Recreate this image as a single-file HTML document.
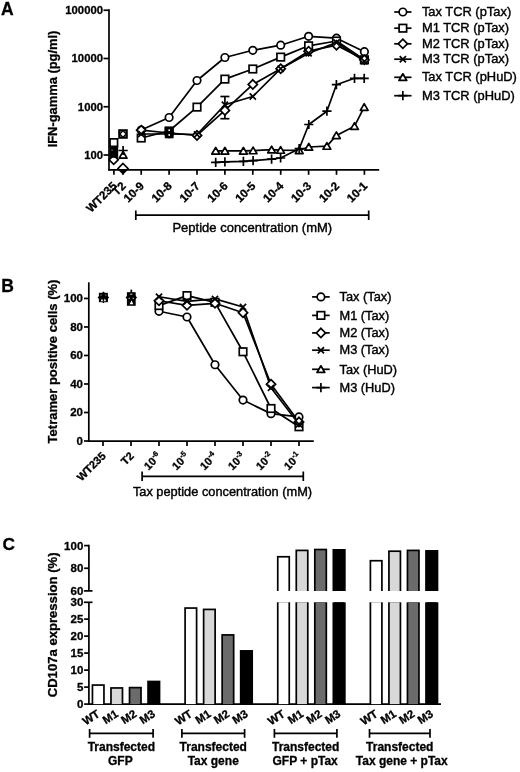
<!DOCTYPE html>
<html><head><meta charset="utf-8"><style>
html,body{margin:0;padding:0;background:#fff;overflow:hidden;}
svg{display:block;filter:blur(0.35px);}
text{font-family:"Liberation Sans", sans-serif;fill:#000;}
text[font-weight="bold"]{stroke:#000;stroke-width:0.3px;}
text[font-weight="normal"]{stroke:#000;stroke-width:0.4px;}
</style></head><body>
<svg width="520" height="772" viewBox="0 0 520 772">
<rect width="520" height="772" fill="#fff"/>
<text x="1.00" y="15.10" font-size="17.5" font-weight="bold" text-anchor="start">A</text>
<line x1="109.00" y1="9.25" x2="109.00" y2="170.55" stroke="#000" stroke-width="1.7"/>
<line x1="108.25" y1="169.80" x2="379.20" y2="169.80" stroke="#000" stroke-width="1.7"/>
<line x1="103.50" y1="10.25" x2="109.00" y2="10.25" stroke="#000" stroke-width="1.7"/>
<text x="103.00" y="14.15" font-size="11.3" font-weight="bold" text-anchor="end">100000</text>
<line x1="103.50" y1="58.50" x2="109.00" y2="58.50" stroke="#000" stroke-width="1.7"/>
<text x="103.00" y="62.40" font-size="11.3" font-weight="bold" text-anchor="end">10000</text>
<line x1="103.50" y1="106.75" x2="109.00" y2="106.75" stroke="#000" stroke-width="1.7"/>
<text x="103.00" y="110.65" font-size="11.3" font-weight="bold" text-anchor="end">1000</text>
<line x1="103.50" y1="155.00" x2="109.00" y2="155.00" stroke="#000" stroke-width="1.7"/>
<text x="103.00" y="158.90" font-size="11.3" font-weight="bold" text-anchor="end">100</text>
<line x1="113.90" y1="169.80" x2="113.90" y2="174.80" stroke="#000" stroke-width="1.7"/>
<line x1="123.00" y1="169.80" x2="123.00" y2="174.80" stroke="#000" stroke-width="1.7"/>
<line x1="141.20" y1="169.80" x2="141.20" y2="174.80" stroke="#000" stroke-width="1.7"/>
<line x1="169.10" y1="169.80" x2="169.10" y2="174.80" stroke="#000" stroke-width="1.7"/>
<line x1="197.00" y1="169.80" x2="197.00" y2="174.80" stroke="#000" stroke-width="1.7"/>
<line x1="224.90" y1="169.80" x2="224.90" y2="174.80" stroke="#000" stroke-width="1.7"/>
<line x1="252.80" y1="169.80" x2="252.80" y2="174.80" stroke="#000" stroke-width="1.7"/>
<line x1="280.70" y1="169.80" x2="280.70" y2="174.80" stroke="#000" stroke-width="1.7"/>
<line x1="308.60" y1="169.80" x2="308.60" y2="174.80" stroke="#000" stroke-width="1.7"/>
<line x1="336.50" y1="169.80" x2="336.50" y2="174.80" stroke="#000" stroke-width="1.7"/>
<line x1="364.40" y1="169.80" x2="364.40" y2="174.80" stroke="#000" stroke-width="1.7"/>
<text x="117.50" y="186.70" font-size="11.6" font-weight="bold" text-anchor="end" transform="rotate(-45 117.50 186.70)">WT235</text>
<text x="126.60" y="186.70" font-size="11.6" font-weight="bold" text-anchor="end" transform="rotate(-45 126.60 186.70)">T2</text>
<text x="144.80" y="186.70" font-size="11.6" font-weight="bold" text-anchor="end" transform="rotate(-45 144.80 186.70)">10-9</text>
<text x="172.70" y="186.70" font-size="11.6" font-weight="bold" text-anchor="end" transform="rotate(-45 172.70 186.70)">10-8</text>
<text x="200.60" y="186.70" font-size="11.6" font-weight="bold" text-anchor="end" transform="rotate(-45 200.60 186.70)">10-7</text>
<text x="228.50" y="186.70" font-size="11.6" font-weight="bold" text-anchor="end" transform="rotate(-45 228.50 186.70)">10-6</text>
<text x="256.40" y="186.70" font-size="11.6" font-weight="bold" text-anchor="end" transform="rotate(-45 256.40 186.70)">10-5</text>
<text x="284.30" y="186.70" font-size="11.6" font-weight="bold" text-anchor="end" transform="rotate(-45 284.30 186.70)">10-4</text>
<text x="312.20" y="186.70" font-size="11.6" font-weight="bold" text-anchor="end" transform="rotate(-45 312.20 186.70)">10-3</text>
<text x="340.10" y="186.70" font-size="11.6" font-weight="bold" text-anchor="end" transform="rotate(-45 340.10 186.70)">10-2</text>
<text x="368.00" y="186.70" font-size="11.6" font-weight="bold" text-anchor="end" transform="rotate(-45 368.00 186.70)">10-1</text>
<text x="56.60" y="89.00" font-size="12.9" font-weight="bold" text-anchor="middle" transform="rotate(-90 56.60 89.00)">IFN-gamma (pg/ml)</text>
<line x1="135.80" y1="215.20" x2="368.70" y2="215.20" stroke="#000" stroke-width="1.7"/>
<line x1="135.80" y1="210.50" x2="135.80" y2="220.00" stroke="#000" stroke-width="1.7"/>
<line x1="368.70" y1="210.50" x2="368.70" y2="220.00" stroke="#000" stroke-width="1.7"/>
<text x="252.30" y="231.50" font-size="13" font-weight="normal" text-anchor="middle">Peptide concentration (mM)</text>
<polyline points="141.20,130.00 169.10,117.50 197.00,80.50 224.90,57.50 252.80,50.30 280.70,45.20 308.60,36.30 336.50,38.20 364.40,51.70" fill="none" stroke="#000" stroke-width="1.7" stroke-linejoin="round"/>
<polyline points="141.20,138.00 169.10,131.00 197.00,107.10 224.90,79.10 252.80,69.00 280.70,57.10 308.60,45.80 336.50,41.00 364.40,59.80" fill="none" stroke="#000" stroke-width="1.7" stroke-linejoin="round"/>
<polyline points="141.20,130.20 169.10,133.00 197.00,135.40 224.90,110.40 252.80,84.40 280.70,68.70 308.60,51.20 336.50,45.20 364.40,59.80" fill="none" stroke="#000" stroke-width="1.7" stroke-linejoin="round"/>
<polyline points="141.20,134.00 169.10,134.00 197.00,134.50 224.90,104.80 252.80,96.50 280.70,68.70 308.60,53.30 336.50,42.50 364.40,61.40" fill="none" stroke="#000" stroke-width="1.7" stroke-linejoin="round"/>
<polyline points="215.70,150.90 224.90,150.90 243.40,150.90 253.10,150.60 271.60,149.70 280.60,150.10 299.20,150.40 308.80,147.00 326.90,146.10 336.40,135.40 354.50,126.20 364.20,107.20" fill="none" stroke="#000" stroke-width="1.7" stroke-linejoin="round"/>
<polyline points="215.70,162.30 224.90,161.80 243.40,161.30 253.10,160.60 271.60,159.20 280.60,158.00 299.20,148.70 308.80,124.50 326.90,111.20 336.40,84.70 354.50,78.30 364.20,78.30" fill="none" stroke="#000" stroke-width="1.7" stroke-linejoin="round"/>
<line x1="224.90" y1="96.50" x2="224.90" y2="118.70" stroke="#000" stroke-width="1.7"/>
<line x1="220.40" y1="96.50" x2="229.40" y2="96.50" stroke="#000" stroke-width="1.7"/>
<line x1="220.40" y1="118.70" x2="229.40" y2="118.70" stroke="#000" stroke-width="1.7"/>
<circle cx="141.20" cy="130.00" r="3.75" fill="#fff" stroke="#000" stroke-width="1.7"/>
<circle cx="169.10" cy="117.50" r="3.75" fill="#fff" stroke="#000" stroke-width="1.7"/>
<circle cx="197.00" cy="80.50" r="3.75" fill="#fff" stroke="#000" stroke-width="1.7"/>
<circle cx="224.90" cy="57.50" r="3.75" fill="#fff" stroke="#000" stroke-width="1.7"/>
<circle cx="252.80" cy="50.30" r="3.75" fill="#fff" stroke="#000" stroke-width="1.7"/>
<circle cx="280.70" cy="45.20" r="3.75" fill="#fff" stroke="#000" stroke-width="1.7"/>
<circle cx="308.60" cy="36.30" r="3.75" fill="#fff" stroke="#000" stroke-width="1.7"/>
<circle cx="336.50" cy="38.20" r="3.75" fill="#fff" stroke="#000" stroke-width="1.7"/>
<circle cx="364.40" cy="51.70" r="3.75" fill="#fff" stroke="#000" stroke-width="1.7"/>
<rect x="137.45" y="134.25" width="7.5" height="7.5" fill="#fff" stroke="#000" stroke-width="1.7"/>
<rect x="165.35" y="127.25" width="7.5" height="7.5" fill="#fff" stroke="#000" stroke-width="1.7"/>
<rect x="193.25" y="103.35" width="7.5" height="7.5" fill="#fff" stroke="#000" stroke-width="1.7"/>
<rect x="221.15" y="75.35" width="7.5" height="7.5" fill="#fff" stroke="#000" stroke-width="1.7"/>
<rect x="249.05" y="65.25" width="7.5" height="7.5" fill="#fff" stroke="#000" stroke-width="1.7"/>
<rect x="276.95" y="53.35" width="7.5" height="7.5" fill="#fff" stroke="#000" stroke-width="1.7"/>
<rect x="304.85" y="42.05" width="7.5" height="7.5" fill="#fff" stroke="#000" stroke-width="1.7"/>
<rect x="332.75" y="37.25" width="7.5" height="7.5" fill="#fff" stroke="#000" stroke-width="1.7"/>
<rect x="360.65" y="56.05" width="7.5" height="7.5" fill="#fff" stroke="#000" stroke-width="1.7"/>
<polygon points="141.20,125.60 145.80,130.20 141.20,134.80 136.60,130.20" fill="#fff" stroke="#000" stroke-width="1.7"/>
<polygon points="169.10,128.40 173.70,133.00 169.10,137.60 164.50,133.00" fill="#fff" stroke="#000" stroke-width="1.7"/>
<polygon points="197.00,130.80 201.60,135.40 197.00,140.00 192.40,135.40" fill="#fff" stroke="#000" stroke-width="1.7"/>
<polygon points="224.90,105.80 229.50,110.40 224.90,115.00 220.30,110.40" fill="#fff" stroke="#000" stroke-width="1.7"/>
<polygon points="252.80,79.80 257.40,84.40 252.80,89.00 248.20,84.40" fill="#fff" stroke="#000" stroke-width="1.7"/>
<polygon points="280.70,64.10 285.30,68.70 280.70,73.30 276.10,68.70" fill="#fff" stroke="#000" stroke-width="1.7"/>
<polygon points="308.60,46.60 313.20,51.20 308.60,55.80 304.00,51.20" fill="#fff" stroke="#000" stroke-width="1.7"/>
<polygon points="336.50,40.60 341.10,45.20 336.50,49.80 331.90,45.20" fill="#fff" stroke="#000" stroke-width="1.7"/>
<polygon points="364.40,55.20 369.00,59.80 364.40,64.40 359.80,59.80" fill="#fff" stroke="#000" stroke-width="1.7"/>
<path d="M138.10,130.90L144.30,137.10M144.30,130.90L138.10,137.10" stroke="#000" stroke-width="1.7" fill="none"/>
<path d="M166.00,130.90L172.20,137.10M172.20,130.90L166.00,137.10" stroke="#000" stroke-width="1.7" fill="none"/>
<path d="M193.90,131.40L200.10,137.60M200.10,131.40L193.90,137.60" stroke="#000" stroke-width="1.7" fill="none"/>
<path d="M221.80,101.70L228.00,107.90M228.00,101.70L221.80,107.90" stroke="#000" stroke-width="1.7" fill="none"/>
<path d="M249.70,93.40L255.90,99.60M255.90,93.40L249.70,99.60" stroke="#000" stroke-width="1.7" fill="none"/>
<path d="M277.60,65.60L283.80,71.80M283.80,65.60L277.60,71.80" stroke="#000" stroke-width="1.7" fill="none"/>
<path d="M305.50,50.20L311.70,56.40M311.70,50.20L305.50,56.40" stroke="#000" stroke-width="1.7" fill="none"/>
<path d="M333.40,39.40L339.60,45.60M339.60,39.40L333.40,45.60" stroke="#000" stroke-width="1.7" fill="none"/>
<path d="M361.30,58.30L367.50,64.50M367.50,58.30L361.30,64.50" stroke="#000" stroke-width="1.7" fill="none"/>
<polygon points="215.70,147.40 219.60,154.05 211.80,154.05" fill="#fff" stroke="#000" stroke-width="1.7" stroke-linejoin="round"/>
<polygon points="224.90,147.40 228.80,154.05 221.00,154.05" fill="#fff" stroke="#000" stroke-width="1.7" stroke-linejoin="round"/>
<polygon points="243.40,147.40 247.30,154.05 239.50,154.05" fill="#fff" stroke="#000" stroke-width="1.7" stroke-linejoin="round"/>
<polygon points="253.10,147.10 257.00,153.75 249.20,153.75" fill="#fff" stroke="#000" stroke-width="1.7" stroke-linejoin="round"/>
<polygon points="271.60,146.20 275.50,152.85 267.70,152.85" fill="#fff" stroke="#000" stroke-width="1.7" stroke-linejoin="round"/>
<polygon points="280.60,146.60 284.50,153.25 276.70,153.25" fill="#fff" stroke="#000" stroke-width="1.7" stroke-linejoin="round"/>
<polygon points="299.20,146.90 303.10,153.55 295.30,153.55" fill="#fff" stroke="#000" stroke-width="1.7" stroke-linejoin="round"/>
<polygon points="308.80,143.50 312.70,150.15 304.90,150.15" fill="#fff" stroke="#000" stroke-width="1.7" stroke-linejoin="round"/>
<polygon points="326.90,142.60 330.80,149.25 323.00,149.25" fill="#fff" stroke="#000" stroke-width="1.7" stroke-linejoin="round"/>
<polygon points="336.40,131.90 340.30,138.55 332.50,138.55" fill="#fff" stroke="#000" stroke-width="1.7" stroke-linejoin="round"/>
<polygon points="354.50,122.70 358.40,129.35 350.60,129.35" fill="#fff" stroke="#000" stroke-width="1.7" stroke-linejoin="round"/>
<polygon points="364.20,103.70 368.10,110.35 360.30,110.35" fill="#fff" stroke="#000" stroke-width="1.7" stroke-linejoin="round"/>
<path d="M211.10,162.30H220.30M215.70,157.70V166.90" stroke="#000" stroke-width="1.7" fill="none"/>
<path d="M220.30,161.80H229.50M224.90,157.20V166.40" stroke="#000" stroke-width="1.7" fill="none"/>
<path d="M238.80,161.30H248.00M243.40,156.70V165.90" stroke="#000" stroke-width="1.7" fill="none"/>
<path d="M248.50,160.60H257.70M253.10,156.00V165.20" stroke="#000" stroke-width="1.7" fill="none"/>
<path d="M267.00,159.20H276.20M271.60,154.60V163.80" stroke="#000" stroke-width="1.7" fill="none"/>
<path d="M276.00,158.00H285.20M280.60,153.40V162.60" stroke="#000" stroke-width="1.7" fill="none"/>
<path d="M294.60,148.70H303.80M299.20,144.10V153.30" stroke="#000" stroke-width="1.7" fill="none"/>
<path d="M304.20,124.50H313.40M308.80,119.90V129.10" stroke="#000" stroke-width="1.7" fill="none"/>
<path d="M322.30,111.20H331.50M326.90,106.60V115.80" stroke="#000" stroke-width="1.7" fill="none"/>
<path d="M331.80,84.70H341.00M336.40,80.10V89.30" stroke="#000" stroke-width="1.7" fill="none"/>
<path d="M349.90,78.30H359.10M354.50,73.70V82.90" stroke="#000" stroke-width="1.7" fill="none"/>
<path d="M359.60,78.30H368.80M364.20,73.70V82.90" stroke="#000" stroke-width="1.7" fill="none"/>
<rect x="164.8" y="127.4" width="8.8" height="10.9" fill="#000"/>
<circle cx="169.2" cy="130.2" r="0.9" fill="#fff"/>
<circle cx="169.2" cy="135.0" r="0.9" fill="#fff"/>
<polygon points="113.70,155.20 118.30,159.80 113.70,164.40 109.10,159.80" fill="#fff" stroke="#000" stroke-width="1.7"/>
<rect x="110.05" y="138.85" width="7.5" height="7.5" fill="#fff" stroke="#000" stroke-width="1.7"/>
<rect x="109.4" y="146.6" width="8.8" height="11.2" fill="#000"/>
<rect x="111.5" y="149.5" width="1.2" height="1.5" fill="#777"/>
<polygon points="123.00,163.50 128.00,168.50 123.00,173.50 118.00,168.50" fill="#fff" stroke="#000" stroke-width="1.7"/>
<polygon points="118,169 128,169 123,174.3" fill="#000"/>
<polygon points="123.10,151.50 127.00,158.15 119.20,158.15" fill="#fff" stroke="#000" stroke-width="1.7" stroke-linejoin="round"/>
<path d="M118.50,150.50H127.70M123.10,145.90V155.10" stroke="#000" stroke-width="1.7" fill="none"/>
<rect x="119.10" y="130.10" width="7.8" height="7.8" fill="#fff" stroke="#000" stroke-width="1.8"/>
<path d="M120.40,131.40L125.60,136.60M125.60,131.40L120.40,136.60" stroke="#000" stroke-width="1.6" fill="none"/>
<polygon points="123.00,130.80 126.20,134.00 123.00,137.20 119.80,134.00" fill="#fff" stroke="#000" stroke-width="1.2"/>
<line x1="394.20" y1="12.00" x2="411.50" y2="12.00" stroke="#000" stroke-width="1.7"/>
<circle cx="402.85" cy="12.00" r="3.75" fill="#fff" stroke="#000" stroke-width="1.7"/>
<text x="421.90" y="16.10" font-size="12.9" font-weight="normal" text-anchor="start">Tax TCR (pTax)</text>
<line x1="394.20" y1="28.20" x2="411.50" y2="28.20" stroke="#000" stroke-width="1.7"/>
<rect x="399.10" y="24.45" width="7.5" height="7.5" fill="#fff" stroke="#000" stroke-width="1.7"/>
<text x="421.90" y="32.30" font-size="12.9" font-weight="normal" text-anchor="start">M1 TCR (pTax)</text>
<line x1="394.20" y1="43.80" x2="411.50" y2="43.80" stroke="#000" stroke-width="1.7"/>
<polygon points="402.85,39.20 407.45,43.80 402.85,48.40 398.25,43.80" fill="#fff" stroke="#000" stroke-width="1.7"/>
<text x="421.90" y="47.90" font-size="12.9" font-weight="normal" text-anchor="start">M2 TCR (pTax)</text>
<line x1="394.20" y1="59.20" x2="411.50" y2="59.20" stroke="#000" stroke-width="1.7"/>
<path d="M399.75,56.10L405.95,62.30M405.95,56.10L399.75,62.30" stroke="#000" stroke-width="1.7" fill="none"/>
<text x="421.90" y="63.30" font-size="12.9" font-weight="normal" text-anchor="start">M3 TCR (pTax)</text>
<line x1="394.20" y1="77.30" x2="411.50" y2="77.30" stroke="#000" stroke-width="1.7"/>
<polygon points="402.85,73.80 406.75,80.45 398.95,80.45" fill="#fff" stroke="#000" stroke-width="1.7" stroke-linejoin="round"/>
<text x="421.90" y="81.40" font-size="12.9" font-weight="normal" text-anchor="start">Tax TCR (pHuD)</text>
<line x1="394.20" y1="95.70" x2="411.50" y2="95.70" stroke="#000" stroke-width="1.7"/>
<path d="M398.25,95.70H407.45M402.85,91.10V100.30" stroke="#000" stroke-width="1.7" fill="none"/>
<text x="421.90" y="99.80" font-size="12.9" font-weight="normal" text-anchor="start">M3 TCR (pHuD)</text>
<text x="1.30" y="291.50" font-size="17.5" font-weight="bold" text-anchor="start">B</text>
<line x1="88.80" y1="282.30" x2="88.80" y2="441.85" stroke="#000" stroke-width="1.7"/>
<line x1="88.05" y1="441.10" x2="313.80" y2="441.10" stroke="#000" stroke-width="1.7"/>
<line x1="84.00" y1="441.00" x2="88.80" y2="441.00" stroke="#000" stroke-width="1.7"/>
<text x="83.00" y="444.90" font-size="11.5" font-weight="bold" text-anchor="end">0</text>
<line x1="84.00" y1="412.49" x2="88.80" y2="412.49" stroke="#000" stroke-width="1.7"/>
<text x="83.00" y="416.39" font-size="11.5" font-weight="bold" text-anchor="end">20</text>
<line x1="84.00" y1="383.98" x2="88.80" y2="383.98" stroke="#000" stroke-width="1.7"/>
<text x="83.00" y="387.88" font-size="11.5" font-weight="bold" text-anchor="end">40</text>
<line x1="84.00" y1="355.47" x2="88.80" y2="355.47" stroke="#000" stroke-width="1.7"/>
<text x="83.00" y="359.37" font-size="11.5" font-weight="bold" text-anchor="end">60</text>
<line x1="84.00" y1="326.96" x2="88.80" y2="326.96" stroke="#000" stroke-width="1.7"/>
<text x="83.00" y="330.86" font-size="11.5" font-weight="bold" text-anchor="end">80</text>
<line x1="84.00" y1="298.45" x2="88.80" y2="298.45" stroke="#000" stroke-width="1.7"/>
<text x="83.00" y="302.35" font-size="11.5" font-weight="bold" text-anchor="end">100</text>
<line x1="103.00" y1="441.10" x2="103.00" y2="446.10" stroke="#000" stroke-width="1.7"/>
<line x1="131.00" y1="441.10" x2="131.00" y2="446.10" stroke="#000" stroke-width="1.7"/>
<line x1="159.00" y1="441.10" x2="159.00" y2="446.10" stroke="#000" stroke-width="1.7"/>
<line x1="187.00" y1="441.10" x2="187.00" y2="446.10" stroke="#000" stroke-width="1.7"/>
<line x1="215.00" y1="441.10" x2="215.00" y2="446.10" stroke="#000" stroke-width="1.7"/>
<line x1="243.00" y1="441.10" x2="243.00" y2="446.10" stroke="#000" stroke-width="1.7"/>
<line x1="271.00" y1="441.10" x2="271.00" y2="446.10" stroke="#000" stroke-width="1.7"/>
<line x1="299.00" y1="441.10" x2="299.00" y2="446.10" stroke="#000" stroke-width="1.7"/>
<text x="56.50" y="361.50" font-size="13" font-weight="bold" text-anchor="middle" transform="rotate(-90 56.50 361.50)">Tetramer positive cells (%)</text>
<text x="106.50" y="456.60" font-size="11" font-weight="bold" text-anchor="end" transform="rotate(-45 106.50 456.60)">WT235</text>
<text x="134.50" y="456.60" font-size="11" font-weight="bold" text-anchor="end" transform="rotate(-45 134.50 456.60)">T2</text>
<text transform="translate(161.90,457.30) rotate(-45)" font-size="11" font-weight="bold" text-anchor="end">10<tspan font-size="7.5" dy="-4.5">-6</tspan></text>
<text transform="translate(189.90,457.30) rotate(-45)" font-size="11" font-weight="bold" text-anchor="end">10<tspan font-size="7.5" dy="-4.5">-5</tspan></text>
<text transform="translate(217.90,457.30) rotate(-45)" font-size="11" font-weight="bold" text-anchor="end">10<tspan font-size="7.5" dy="-4.5">-4</tspan></text>
<text transform="translate(245.90,457.30) rotate(-45)" font-size="11" font-weight="bold" text-anchor="end">10<tspan font-size="7.5" dy="-4.5">-3</tspan></text>
<text transform="translate(273.90,457.30) rotate(-45)" font-size="11" font-weight="bold" text-anchor="end">10<tspan font-size="7.5" dy="-4.5">-2</tspan></text>
<text transform="translate(301.90,457.30) rotate(-45)" font-size="11" font-weight="bold" text-anchor="end">10<tspan font-size="7.5" dy="-4.5">-1</tspan></text>
<line x1="142.10" y1="476.30" x2="303.30" y2="476.30" stroke="#000" stroke-width="1.7"/>
<line x1="142.10" y1="471.50" x2="142.10" y2="481.00" stroke="#000" stroke-width="1.7"/>
<line x1="303.30" y1="471.50" x2="303.30" y2="481.00" stroke="#000" stroke-width="1.7"/>
<text x="222.50" y="495.80" font-size="12.8" font-weight="normal" text-anchor="middle">Tax peptide concentration (mM)</text>
<polyline points="159.00,311.28 187.00,316.98 215.00,364.74 243.00,400.09 271.00,413.63 299.00,416.91" fill="none" stroke="#000" stroke-width="1.7" stroke-linejoin="round"/>
<polyline points="159.00,305.58 187.00,295.60 215.00,302.30 243.00,351.76 271.00,408.50 299.00,426.75" fill="none" stroke="#000" stroke-width="1.7" stroke-linejoin="round"/>
<polyline points="159.00,300.73 187.00,305.29 215.00,303.30 243.00,312.71 271.00,384.27 299.00,421.90" fill="none" stroke="#000" stroke-width="1.7" stroke-linejoin="round"/>
<polyline points="159.00,296.74 187.00,301.30 215.00,298.88 243.00,307.00 271.00,387.83 299.00,424.32" fill="none" stroke="#000" stroke-width="1.7" stroke-linejoin="round"/>
<circle cx="159.00" cy="311.28" r="3.75" fill="#fff" stroke="#000" stroke-width="1.7"/>
<circle cx="187.00" cy="316.98" r="3.75" fill="#fff" stroke="#000" stroke-width="1.7"/>
<circle cx="215.00" cy="364.74" r="3.75" fill="#fff" stroke="#000" stroke-width="1.7"/>
<circle cx="243.00" cy="400.09" r="3.75" fill="#fff" stroke="#000" stroke-width="1.7"/>
<circle cx="271.00" cy="413.63" r="3.75" fill="#fff" stroke="#000" stroke-width="1.7"/>
<circle cx="299.00" cy="416.91" r="3.75" fill="#fff" stroke="#000" stroke-width="1.7"/>
<rect x="155.25" y="301.83" width="7.5" height="7.5" fill="#fff" stroke="#000" stroke-width="1.7"/>
<rect x="183.25" y="291.85" width="7.5" height="7.5" fill="#fff" stroke="#000" stroke-width="1.7"/>
<rect x="211.25" y="298.55" width="7.5" height="7.5" fill="#fff" stroke="#000" stroke-width="1.7"/>
<rect x="239.25" y="348.01" width="7.5" height="7.5" fill="#fff" stroke="#000" stroke-width="1.7"/>
<rect x="267.25" y="404.75" width="7.5" height="7.5" fill="#fff" stroke="#000" stroke-width="1.7"/>
<rect x="295.25" y="423.00" width="7.5" height="7.5" fill="#fff" stroke="#000" stroke-width="1.7"/>
<polygon points="159.00,296.13 163.60,300.73 159.00,305.33 154.40,300.73" fill="#fff" stroke="#000" stroke-width="1.7"/>
<polygon points="187.00,300.69 191.60,305.29 187.00,309.89 182.40,305.29" fill="#fff" stroke="#000" stroke-width="1.7"/>
<polygon points="215.00,298.70 219.60,303.30 215.00,307.90 210.40,303.30" fill="#fff" stroke="#000" stroke-width="1.7"/>
<polygon points="243.00,308.11 247.60,312.71 243.00,317.31 238.40,312.71" fill="#fff" stroke="#000" stroke-width="1.7"/>
<polygon points="271.00,379.67 275.60,384.27 271.00,388.87 266.40,384.27" fill="#fff" stroke="#000" stroke-width="1.7"/>
<polygon points="299.00,417.30 303.60,421.90 299.00,426.50 294.40,421.90" fill="#fff" stroke="#000" stroke-width="1.7"/>
<path d="M155.90,293.64L162.10,299.84M162.10,293.64L155.90,299.84" stroke="#000" stroke-width="1.7" fill="none"/>
<path d="M183.90,298.20L190.10,304.40M190.10,298.20L183.90,304.40" stroke="#000" stroke-width="1.7" fill="none"/>
<path d="M211.90,295.78L218.10,301.98M218.10,295.78L211.90,301.98" stroke="#000" stroke-width="1.7" fill="none"/>
<path d="M239.90,303.90L246.10,310.10M246.10,303.90L239.90,310.10" stroke="#000" stroke-width="1.7" fill="none"/>
<path d="M267.90,384.73L274.10,390.93M274.10,384.73L267.90,390.93" stroke="#000" stroke-width="1.7" fill="none"/>
<path d="M295.90,421.22L302.10,427.42M302.10,421.22L295.90,427.42" stroke="#000" stroke-width="1.7" fill="none"/>
<polygon points="103.4,291.6 109.2,297.4 103.4,303.2 97.6,297.4" fill="#000"/>
<rect x="98.9" y="292.8" width="9" height="9.4" fill="#000"/>
<path d="M100.6,301.3 L102,298.6 L103.2,301.3Z M103.6,301.3 L104.8,298.6 L106.2,301.3Z" fill="#fff" opacity="0.9"/>
<rect x="100.5" y="294.5" width="1.2" height="1.2" fill="#888"/>
<rect x="105.2" y="294.5" width="1.2" height="1.2" fill="#888"/>
<polygon points="131.3,291.5 137.1,297.4 131.3,303.3 125.5,297.4" fill="#000"/>
<rect x="126.9" y="292.2" width="8.8" height="13.6" fill="#000"/>
<line x1="131.30" y1="289.60" x2="131.30" y2="293.00" stroke="#000" stroke-width="1.7"/>
<path d="M129.6,304.3 L131.5,300.6 L133.4,304.3Z" fill="#fff"/>
<rect x="128.6" y="297.8" width="1.4" height="1.2" fill="#aaa"/>
<rect x="132.6" y="297.8" width="1.4" height="1.2" fill="#aaa"/>
<rect x="130.2" y="293.6" width="2.2" height="1.4" fill="#999"/>
<line x1="312.10" y1="296.90" x2="329.70" y2="296.90" stroke="#000" stroke-width="1.7"/>
<circle cx="320.90" cy="296.90" r="3.75" fill="#fff" stroke="#000" stroke-width="1.7"/>
<text x="339.50" y="301.10" font-size="12.8" font-weight="normal" text-anchor="start">Tax (Tax)</text>
<line x1="312.10" y1="315.40" x2="329.70" y2="315.40" stroke="#000" stroke-width="1.7"/>
<rect x="317.15" y="311.65" width="7.5" height="7.5" fill="#fff" stroke="#000" stroke-width="1.7"/>
<text x="339.50" y="319.60" font-size="12.8" font-weight="normal" text-anchor="start">M1 (Tax)</text>
<line x1="312.10" y1="332.90" x2="329.70" y2="332.90" stroke="#000" stroke-width="1.7"/>
<polygon points="320.90,328.30 325.50,332.90 320.90,337.50 316.30,332.90" fill="#fff" stroke="#000" stroke-width="1.7"/>
<text x="339.50" y="337.10" font-size="12.8" font-weight="normal" text-anchor="start">M2 (Tax)</text>
<line x1="312.10" y1="350.20" x2="329.70" y2="350.20" stroke="#000" stroke-width="1.7"/>
<path d="M317.80,347.10L324.00,353.30M324.00,347.10L317.80,353.30" stroke="#000" stroke-width="1.7" fill="none"/>
<text x="339.50" y="354.40" font-size="12.8" font-weight="normal" text-anchor="start">M3 (Tax)</text>
<line x1="312.10" y1="369.30" x2="329.70" y2="369.30" stroke="#000" stroke-width="1.7"/>
<polygon points="320.90,365.80 324.80,372.45 317.00,372.45" fill="#fff" stroke="#000" stroke-width="1.7" stroke-linejoin="round"/>
<text x="339.50" y="373.50" font-size="12.8" font-weight="normal" text-anchor="start">Tax (HuD)</text>
<line x1="312.10" y1="387.60" x2="329.70" y2="387.60" stroke="#000" stroke-width="1.7"/>
<path d="M316.30,387.60H325.50M320.90,383.00V392.20" stroke="#000" stroke-width="1.7" fill="none"/>
<text x="339.50" y="391.80" font-size="12.8" font-weight="normal" text-anchor="start">M3 (HuD)</text>
<text x="2.40" y="549.80" font-size="17.3" font-weight="bold" text-anchor="start">C</text>
<line x1="88.90" y1="544.85" x2="88.90" y2="590.90" stroke="#000" stroke-width="1.7"/>
<line x1="84.10" y1="545.60" x2="88.90" y2="545.60" stroke="#000" stroke-width="1.7"/>
<line x1="84.10" y1="568.25" x2="88.90" y2="568.25" stroke="#000" stroke-width="1.7"/>
<line x1="83.90" y1="590.90" x2="92.50" y2="590.90" stroke="#000" stroke-width="1.7"/>
<text x="83.30" y="549.50" font-size="11.5" font-weight="bold" text-anchor="end">100</text>
<text x="83.30" y="572.15" font-size="11.5" font-weight="bold" text-anchor="end">80</text>
<text x="83.30" y="594.80" font-size="11.5" font-weight="bold" text-anchor="end">60</text>
<line x1="88.90" y1="602.30" x2="88.90" y2="704.85" stroke="#000" stroke-width="1.7"/>
<line x1="83.90" y1="602.30" x2="92.50" y2="602.30" stroke="#000" stroke-width="1.7"/>
<line x1="84.10" y1="704.10" x2="88.90" y2="704.10" stroke="#000" stroke-width="1.7"/>
<line x1="84.10" y1="687.10" x2="88.90" y2="687.10" stroke="#000" stroke-width="1.7"/>
<line x1="84.10" y1="670.10" x2="88.90" y2="670.10" stroke="#000" stroke-width="1.7"/>
<line x1="84.10" y1="653.10" x2="88.90" y2="653.10" stroke="#000" stroke-width="1.7"/>
<line x1="84.10" y1="636.10" x2="88.90" y2="636.10" stroke="#000" stroke-width="1.7"/>
<line x1="84.10" y1="619.10" x2="88.90" y2="619.10" stroke="#000" stroke-width="1.7"/>
<text x="83.30" y="708.00" font-size="11.5" font-weight="bold" text-anchor="end">0</text>
<text x="83.30" y="691.00" font-size="11.5" font-weight="bold" text-anchor="end">5</text>
<text x="83.30" y="674.00" font-size="11.5" font-weight="bold" text-anchor="end">10</text>
<text x="83.30" y="657.00" font-size="11.5" font-weight="bold" text-anchor="end">15</text>
<text x="83.30" y="640.00" font-size="11.5" font-weight="bold" text-anchor="end">20</text>
<text x="83.30" y="623.00" font-size="11.5" font-weight="bold" text-anchor="end">25</text>
<text x="83.30" y="606.00" font-size="11.5" font-weight="bold" text-anchor="end">30</text>
<line x1="88.15" y1="704.10" x2="441.00" y2="704.10" stroke="#000" stroke-width="1.7"/>
<text x="57.40" y="624.90" font-size="13.1" font-weight="bold" text-anchor="middle" transform="rotate(-90 57.40 624.90)">CD107a expression (%)</text>
<rect x="91.60" y="684.21" width="13.20" height="19.89" fill="#000"/>
<rect x="93.30" y="685.91" width="9.80" height="18.19" fill="#fff"/>
<text x="96.20" y="709.20" font-size="11.4" font-weight="bold" text-anchor="end" transform="rotate(-33 96.20 709.20)" dominant-baseline="hanging">WT</text>
<rect x="110.13" y="687.10" width="13.20" height="17.00" fill="#000"/>
<rect x="111.83" y="688.80" width="9.80" height="15.30" fill="#d8d8d8"/>
<text x="114.73" y="709.20" font-size="11.4" font-weight="bold" text-anchor="end" transform="rotate(-33 114.73 709.20)" dominant-baseline="hanging">M1</text>
<rect x="128.66" y="686.76" width="13.20" height="17.34" fill="#000"/>
<rect x="130.36" y="688.46" width="9.80" height="15.64" fill="#6b6b6b"/>
<text x="133.26" y="709.20" font-size="11.4" font-weight="bold" text-anchor="end" transform="rotate(-33 133.26 709.20)" dominant-baseline="hanging">M2</text>
<rect x="147.19" y="680.64" width="13.20" height="23.46" fill="#000"/>
<rect x="148.89" y="682.34" width="9.80" height="21.76" fill="#000"/>
<text x="151.79" y="709.20" font-size="11.4" font-weight="bold" text-anchor="end" transform="rotate(-33 151.79 709.20)" dominant-baseline="hanging">M3</text>
<rect x="184.25" y="607.20" width="13.20" height="96.90" fill="#000"/>
<rect x="185.95" y="608.90" width="9.80" height="95.20" fill="#fff"/>
<text x="188.85" y="709.20" font-size="11.4" font-weight="bold" text-anchor="end" transform="rotate(-33 188.85 709.20)" dominant-baseline="hanging">WT</text>
<rect x="202.78" y="608.56" width="13.20" height="95.54" fill="#000"/>
<rect x="204.48" y="610.26" width="9.80" height="93.84" fill="#d8d8d8"/>
<text x="207.38" y="709.20" font-size="11.4" font-weight="bold" text-anchor="end" transform="rotate(-33 207.38 709.20)" dominant-baseline="hanging">M1</text>
<rect x="221.31" y="634.06" width="13.20" height="70.04" fill="#000"/>
<rect x="223.01" y="635.76" width="9.80" height="68.34" fill="#6b6b6b"/>
<text x="225.91" y="709.20" font-size="11.4" font-weight="bold" text-anchor="end" transform="rotate(-33 225.91 709.20)" dominant-baseline="hanging">M2</text>
<rect x="239.84" y="650.04" width="13.20" height="54.06" fill="#000"/>
<rect x="241.54" y="651.74" width="9.80" height="52.36" fill="#000"/>
<text x="244.44" y="709.20" font-size="11.4" font-weight="bold" text-anchor="end" transform="rotate(-33 244.44 709.20)" dominant-baseline="hanging">M3</text>
<rect x="276.90" y="555.91" width="13.20" height="35.09" fill="#000"/>
<rect x="278.60" y="557.61" width="9.80" height="33.39" fill="#fff"/>
<rect x="276.90" y="602.3" width="13.20" height="101.80" fill="#000"/>
<rect x="278.60" y="602.3" width="9.80" height="101.80" fill="#fff"/>
<text x="281.50" y="709.20" font-size="11.4" font-weight="bold" text-anchor="end" transform="rotate(-33 281.50 709.20)" dominant-baseline="hanging">WT</text>
<rect x="295.43" y="549.56" width="13.20" height="41.44" fill="#000"/>
<rect x="297.13" y="551.26" width="9.80" height="39.74" fill="#d8d8d8"/>
<rect x="295.43" y="602.3" width="13.20" height="101.80" fill="#000"/>
<rect x="297.13" y="602.3" width="9.80" height="101.80" fill="#d8d8d8"/>
<text x="300.03" y="709.20" font-size="11.4" font-weight="bold" text-anchor="end" transform="rotate(-33 300.03 709.20)" dominant-baseline="hanging">M1</text>
<rect x="313.96" y="548.66" width="13.20" height="42.34" fill="#000"/>
<rect x="315.66" y="550.36" width="9.80" height="40.64" fill="#6b6b6b"/>
<rect x="313.96" y="602.3" width="13.20" height="101.80" fill="#000"/>
<rect x="315.66" y="602.3" width="9.80" height="101.80" fill="#6b6b6b"/>
<text x="318.56" y="709.20" font-size="11.4" font-weight="bold" text-anchor="end" transform="rotate(-33 318.56 709.20)" dominant-baseline="hanging">M2</text>
<rect x="332.49" y="549.00" width="13.20" height="42.00" fill="#000"/>
<rect x="334.19" y="550.70" width="9.80" height="40.30" fill="#000"/>
<rect x="332.49" y="602.3" width="13.20" height="101.80" fill="#000"/>
<rect x="334.19" y="602.3" width="9.80" height="101.80" fill="#000"/>
<text x="337.09" y="709.20" font-size="11.4" font-weight="bold" text-anchor="end" transform="rotate(-33 337.09 709.20)" dominant-baseline="hanging">M3</text>
<rect x="369.55" y="559.87" width="13.20" height="31.13" fill="#000"/>
<rect x="371.25" y="561.57" width="9.80" height="29.43" fill="#fff"/>
<rect x="369.55" y="602.3" width="13.20" height="101.80" fill="#000"/>
<rect x="371.25" y="602.3" width="9.80" height="101.80" fill="#fff"/>
<text x="374.15" y="709.20" font-size="11.4" font-weight="bold" text-anchor="end" transform="rotate(-33 374.15 709.20)" dominant-baseline="hanging">WT</text>
<rect x="388.08" y="550.36" width="13.20" height="40.64" fill="#000"/>
<rect x="389.78" y="552.06" width="9.80" height="38.94" fill="#d8d8d8"/>
<rect x="388.08" y="602.3" width="13.20" height="101.80" fill="#000"/>
<rect x="389.78" y="602.3" width="9.80" height="101.80" fill="#d8d8d8"/>
<text x="392.68" y="709.20" font-size="11.4" font-weight="bold" text-anchor="end" transform="rotate(-33 392.68 709.20)" dominant-baseline="hanging">M1</text>
<rect x="406.61" y="549.56" width="13.20" height="41.44" fill="#000"/>
<rect x="408.31" y="551.26" width="9.80" height="39.74" fill="#6b6b6b"/>
<rect x="406.61" y="602.3" width="13.20" height="101.80" fill="#000"/>
<rect x="408.31" y="602.3" width="9.80" height="101.80" fill="#6b6b6b"/>
<text x="411.21" y="709.20" font-size="11.4" font-weight="bold" text-anchor="end" transform="rotate(-33 411.21 709.20)" dominant-baseline="hanging">M2</text>
<rect x="425.14" y="550.02" width="13.20" height="40.98" fill="#000"/>
<rect x="426.84" y="551.72" width="9.80" height="39.28" fill="#000"/>
<rect x="425.14" y="602.3" width="13.20" height="101.80" fill="#000"/>
<rect x="426.84" y="602.3" width="9.80" height="101.80" fill="#000"/>
<text x="429.74" y="709.20" font-size="11.4" font-weight="bold" text-anchor="end" transform="rotate(-33 429.74 709.20)" dominant-baseline="hanging">M3</text>
<line x1="89.60" y1="733.30" x2="153.10" y2="733.30" stroke="#000" stroke-width="1.7"/>
<line x1="89.60" y1="729.00" x2="89.60" y2="737.80" stroke="#000" stroke-width="1.7"/>
<line x1="153.10" y1="729.00" x2="153.10" y2="737.80" stroke="#000" stroke-width="1.7"/>
<text x="121.35" y="751.30" font-size="12" font-weight="bold" text-anchor="middle">Transfected</text>
<text x="120.35" y="765.20" font-size="12" font-weight="bold" text-anchor="middle">GFP</text>
<line x1="181.90" y1="733.30" x2="244.60" y2="733.30" stroke="#000" stroke-width="1.7"/>
<line x1="181.90" y1="729.00" x2="181.90" y2="737.80" stroke="#000" stroke-width="1.7"/>
<line x1="244.60" y1="729.00" x2="244.60" y2="737.80" stroke="#000" stroke-width="1.7"/>
<text x="213.25" y="751.30" font-size="12" font-weight="bold" text-anchor="middle">Transfected</text>
<text x="213.25" y="765.20" font-size="12" font-weight="bold" text-anchor="middle">Tax gene</text>
<line x1="274.40" y1="733.30" x2="336.90" y2="733.30" stroke="#000" stroke-width="1.7"/>
<line x1="274.40" y1="729.00" x2="274.40" y2="737.80" stroke="#000" stroke-width="1.7"/>
<line x1="336.90" y1="729.00" x2="336.90" y2="737.80" stroke="#000" stroke-width="1.7"/>
<text x="305.65" y="751.30" font-size="12" font-weight="bold" text-anchor="middle">Transfected</text>
<text x="305.15" y="765.20" font-size="12" font-weight="bold" text-anchor="middle">GFP + pTax</text>
<line x1="369.50" y1="733.30" x2="430.00" y2="733.30" stroke="#000" stroke-width="1.7"/>
<line x1="369.50" y1="729.00" x2="369.50" y2="737.80" stroke="#000" stroke-width="1.7"/>
<line x1="430.00" y1="729.00" x2="430.00" y2="737.80" stroke="#000" stroke-width="1.7"/>
<text x="399.75" y="751.30" font-size="12" font-weight="bold" text-anchor="middle">Transfected</text>
<text x="401.75" y="765.20" font-size="12" font-weight="bold" text-anchor="middle">Tax gene + pTax</text>
</svg>
</body></html>
